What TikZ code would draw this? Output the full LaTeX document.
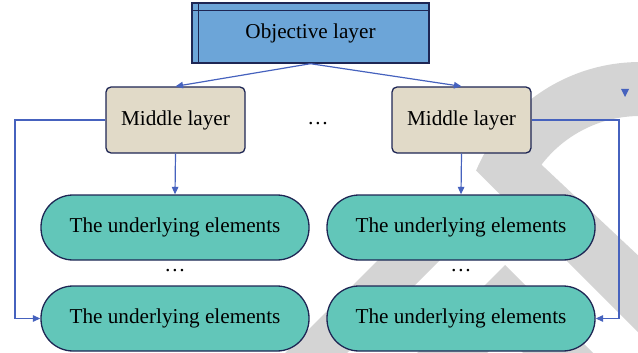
\documentclass[tikz,border=0pt]{standalone}
\usepackage{fontspec}
\setmainfont{Liberation Serif}
\usetikzlibrary{arrows.meta}

\definecolor{objblue}{RGB}{108,165,216}
\definecolor{midbeige}{RGB}{225,218,200}
\definecolor{elemteal}{RGB}{98,198,185}
\definecolor{edgenavy}{RGB}{30,38,84}
\definecolor{linkblue}{RGB}{70,98,190}
\definecolor{swooshgray}{RGB}{212,212,212}

\tikzset{
	objbox/.style={draw=edgenavy, line width=1.4pt, fill=objblue,
		minimum width=237pt, minimum height=60pt, inner sep=0pt},
	midbox/.style={draw=edgenavy, line width=1.3pt, fill=midbeige, rounded corners=5pt,
		minimum width=139pt, minimum height=66pt, inner sep=0pt},
	elembox/.style={draw=edgenavy, line width=1.3pt, fill=elemteal, rounded corners=32pt,
		minimum width=268pt, minimum height=65pt, inner sep=0pt},
	link/.style={->, draw=linkblue, line width=1.2pt},
}

\begin{document}
\begin{tikzpicture}[x=1pt, y=-1pt, >={Triangle[length=7.5pt,width=6.5pt]},
		font=\fontsize{21.2}{25}\selectfont]
		\useasboundingbox (0,0) rectangle (638,353);
		% grey swoosh behind the chart
		\begin{scope}
			\clip (0,0) rectangle (638,353);
			\fill[swooshgray] plot[domain=-157:-90, samples=40] ({640+178*cos(\x)}, {240+178*sin(\x)})
				-- plot[domain=0:52.6, samples=40] ({640+124*cos(-90-\x)}, {240+124*sin(-90-\x)})
				-- (660,276) -- (660,354) -- cycle;
			\fill[swooshgray] (400,370) -- (505,265) -- (610,370) -- (540,370) -- (505,335) -- (470,370) -- cycle;
			\fill[swooshgray] (268,370) -- (330,370) -- (470,230) -- (408,230) -- cycle;
		\end{scope}

		\node[objbox] (obj) at (310.5,33) {Objective layer};
		\draw[edgenavy, line width=1.1pt] ([xshift=7.5pt]obj.north west) -- ([xshift=7.5pt]obj.south west)
			([yshift=-8pt]obj.north west) -- ([yshift=-8pt]obj.north east);

		\node[midbox] (midL) at (175.5,120) {Middle layer};
		\node[midbox] (midR) at (461.5,120) {Middle layer};
		\node (midgap) at (318,124) {…};

		\node[elembox] (elemL1) at (175,227.5) {The underlying elements};
		\node (elemgapL) at (175,271) {…};
		\node[elembox] (elemL2) at (175,318.5) {The underlying elements};
		\node[elembox] (elemR1) at (461,227.5) {The underlying elements};
		\node (elemgapR) at (461,271) {…};
		\node[elembox] (elemR2) at (461,318.5) {The underlying elements};

		\draw[link] (obj.south) -- (midL.north);
		\draw[link] (obj.south) -- (midR.north);
		\draw[link] (midL.south) -- (elemL1.north);
		\draw[link] (midR.south) -- (elemR1.north);
		% side rails down to the last element
		\coordinate (railL) at (15,120);
		\coordinate (railR) at (619,120);
		\draw[link] (midL.west) -- (railL) |- (elemL2.west);
		\draw[link] (midR.east) -- (railR) |- (elemR2.east);
		% loose tip near the right edge
		\fill[linkblue] (621,89) -- (629,89) -- (625,97) -- cycle;
\end{tikzpicture}
\end{document}
